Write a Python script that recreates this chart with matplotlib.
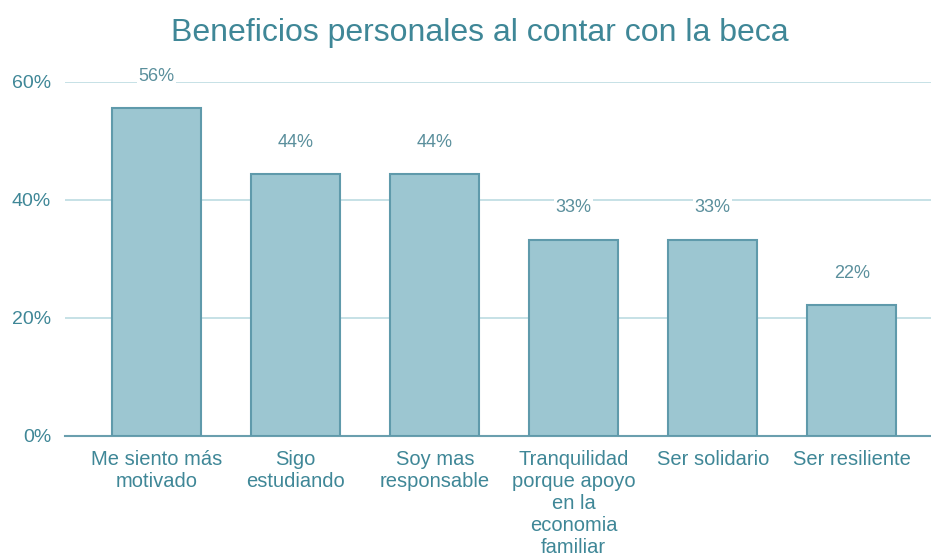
import matplotlib
matplotlib.use('Agg')
import matplotlib.pyplot as plt
import numpy as np

categorias = [
    'Me siento más\nmotivado',
    'Sigo\nestudiando',
    'Soy mas\nresponsable',
    'Tranquilidad\nporque apoyo\nen la\neconomia\nfamiliar',
    'Ser solidario',
    'Ser resiliente',
]
valores = [55.6, 44.4, 44.4, 33.3, 33.3, 22.2]
etiquetas = ['56%', '44%', '44%', '33%', '33%', '22%']
yticks = [0, 20, 40, 60]

plt.rcParams['font.family'] = ['Liberation Sans', 'DejaVu Sans']
text_col = '#3f8797'
fill_col = '#9cc6d1'
edge_col = '#5f9aab'

fig = plt.figure(figsize=(9.31, 5.58), dpi=100)
ax = fig.add_axes([65 / 931, 122 / 558, 866 / 931, 354 / 558])

x = np.arange(len(categorias))
ax.bar(x, valores, width=0.64, color=fill_col, edgecolor=edge_col, linewidth=1.5, zorder=3)

for xi, v, lab in zip(x, valores, etiquetas):
    ax.annotate(lab, (xi, v), xytext=(0, 23), textcoords='offset points',
                ha='center', va='center', fontsize=13, color='#5a8f9c',
                bbox=dict(facecolor='white', edgecolor='none', pad=1), zorder=4)

ax.set_xlim(-0.66, 5.57)
ax.set_ylim(0, 60)
ax.set_yticks(yticks)
ax.set_yticklabels(['%d%%' % t for t in yticks])
ax.set_xticks(x)
ax.set_xticklabels(categorias, fontsize=14.5, color=text_col, linespacing=1.2)
ax.tick_params(axis='y', labelsize=14, labelcolor=text_col, length=0, pad=10)
ax.tick_params(axis='x', length=0, pad=10)
ax.yaxis.grid(True, color='#bcdbe1', linewidth=1.2, zorder=0)
for s in ['top', 'right', 'left']:
    ax.spines[s].set_visible(False)
ax.spines['bottom'].set_color('#6a9fae')
ax.spines['bottom'].set_linewidth(1.5)

fig.text(0.515, 0.94, 'Beneficios personales al contar con la beca', ha='center', va='center',
         fontsize=23, color=text_col)

fig.savefig('out.png', dpi=100)
